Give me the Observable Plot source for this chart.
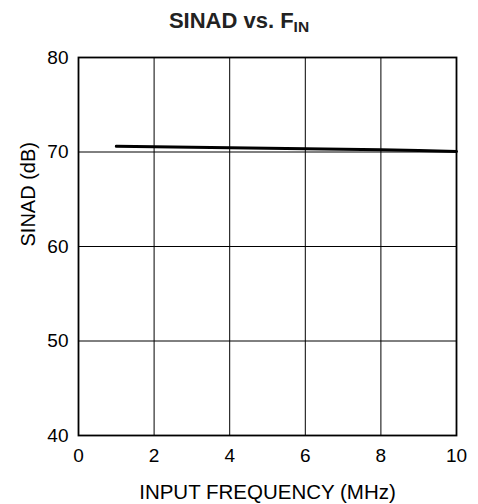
<!DOCTYPE html>
<html><head><meta charset="utf-8">
<script src="https://cdn.jsdelivr.net/npm/d3@7"></script>
<script src="https://cdn.jsdelivr.net/npm/@observablehq/plot@0.6"></script>
<style>
body{margin:0;background:#fff;font-family:"Liberation Sans",Arial,sans-serif;}
#title{width:478px;height:40px;text-align:center;font-weight:bold;font-size:22px;line-height:41px;color:#222;}
#title sub{font-size:15.5px;vertical-align:-4px;line-height:0;}
</style></head><body>
<div id="title">SINAD vs. F<sub>IN</sub></div>
<div id="chart"></div>
<script>
const freq = [1, 2, 3, 4, 5, 6, 7, 8, 9, 10];
const sinad = [70.6, 70.55, 70.5, 70.45, 70.4, 70.35, 70.3, 70.25, 70.15, 70.05];
const xTicks = [0, 2, 4, 6, 8, 10];
const yTicks = [40, 50, 60, 70, 80];
const data = freq.map((f, i) => ({f, s: sinad[i]}));

const chart = Plot.plot({
  width: 478, height: 464,
  marginLeft: 78, marginRight: 22, marginTop: 17, marginBottom: 69,
  style: {fontFamily: '"Liberation Sans", Arial, sans-serif', fontSize: "19px", color: "#000", background: "#fff"},
  x: {domain: [0, 10], ticks: xTicks, label: null},
  y: {domain: [40, 80], ticks: yTicks, label: null},
  marks: [
    Plot.gridX(xTicks, {stroke: "#000", strokeOpacity: 1, strokeWidth: 1}),
    Plot.gridY(yTicks, {stroke: "#000", strokeOpacity: 1, strokeWidth: 1}),
    Plot.frame({stroke: "#000", strokeWidth: 1.8}),
    Plot.axisX(xTicks, {tickSize: 0, tickPadding: 13, fontSize: 19, label: null}),
    Plot.axisY(yTicks, {tickSize: 0, tickPadding: 10, fontSize: 19, label: null}),
    Plot.text(["INPUT FREQUENCY (MHz)"], {frameAnchor: "bottom", lineAnchor: "middle", dy: 57, fontSize: 20.5}),
    Plot.text(["SINAD (dB)"], {frameAnchor: "left", lineAnchor: "middle", dx: -50, rotate: -90, fontSize: 20}),
    Plot.line(data, {x: "f", y: "s", stroke: "#000", strokeWidth: 3})
  ]
});
document.getElementById("chart").appendChild(chart);
</script>
</body></html>
